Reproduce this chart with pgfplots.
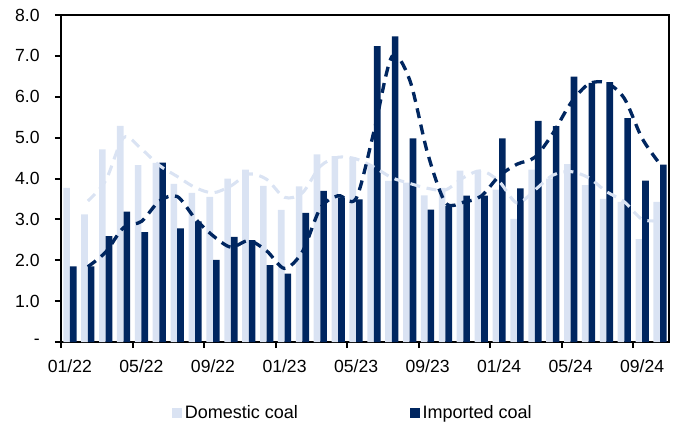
\documentclass[border=0pt]{standalone}
\usepackage{fontspec}
\setmainfont{Liberation Sans}
\usepackage{pgfplots}
\usepackage{pgfplotstable}
\pgfplotsset{compat=1.18}
\definecolor{navy}{RGB}{0,38,96}
\definecolor{lightb}{RGB}{218,227,243}

\pgfplotstableread{
k dom imp
0 3.77 1.85
1 3.12 1.85
2 4.71 2.59
3 5.29 3.19
4 4.33 2.69
5 4.38 4.39
6 3.87 2.78
7 3.65 2.95
8 3.55 2.01
9 4.00 2.57
10 4.22 2.49
11 3.82 1.88
12 3.23 1.67
13 3.81 3.16
14 4.59 3.70
15 4.55 3.54
16 4.52 3.49
17 4.31 7.24
18 3.94 7.48
19 3.90 4.98
20 3.59 3.24
21 3.77 3.33
22 4.19 3.58
23 4.19 3.58
24 3.73 4.98
25 3.01 3.76
26 4.22 5.41
27 4.00 5.28
28 4.35 6.49
29 3.84 6.34
30 3.50 6.36
31 3.43 5.48
32 2.52 3.95
33 3.43 4.34
}\bars

\pgfplotstableread{
k domma impma
1 3.45 1.84
2 3.95 2.20
3 5.00 2.80
4 4.72 2.95
5 4.32 3.45
6 4.05 3.56
7 3.78 3.02
8 3.65 2.60
9 3.82 2.32
10 4.11 2.48
11 3.98 2.23
12 3.54 1.80
13 3.65 2.21
14 4.30 3.27
15 4.52 3.58
16 4.48 3.51
17 4.28 5.15
18 4.02 6.98
19 3.88 6.41
20 3.76 4.62
21 3.72 3.41
22 4.02 3.42
23 4.19 3.57
24 3.93 4.06
25 3.40 4.35
26 3.72 4.52
27 4.08 5.10
28 4.17 5.84
29 4.02 6.31
30 3.68 6.34
31 3.43 5.96
32 3.00 4.98
33 2.97 4.35
}\lines

\begin{document}
\begin{tikzpicture}
\path[use as bounding box] (-45.75pt,-62.25pt) rectangle (464.25pt,256.5pt);
\begin{axis}[
  at={(0,0)}, anchor=south west,
  scale only axis,
  width=456pt, height=245.25pt,
  xmin=-0.5, xmax=33.5,
  ymin=0, ymax=8,
  axis line style={line width=1.5pt, black},
  every tick/.style={line width=1.5pt, black},
  tick align=outside,
  major tick length=4.5pt,
  xtick pos=bottom, ytick pos=left,
  ytick={0,1,...,8},
  yticklabels={{-\hspace{4.5pt}},1.0,2.0,3.0,4.0,5.0,6.0,7.0,8.0},
  xtick={-0.5,3.5,...,31.5},
  xticklabel=\empty,
  extra x ticks={0,4,8,12,16,20,24,28,32},
  extra x tick labels={01/22,05/22,09/22,01/23,05/23,09/23,01/24,05/24,09/24},
  extra x tick style={major tick length=0pt},
  tick label style={font=\fontsize{13.2}{15}\selectfont, black},
  xticklabel style={yshift=-10pt},
  yticklabel style={xshift=-8pt},
  legend style={at={(axis description cs:0.1826,-0.217)}, anchor=west,
    draw=none, fill=none, inner sep=0pt, legend columns=2,
    font=\fontsize{13.5}{15}\selectfont,
    /tikz/every even column/.append style={column sep=82pt}},
]
\addplot[ybar, bar width=0.37, bar shift=-0.185, fill=lightb, draw=none,
  legend image code/.code={\fill[lightb] (0pt,-3.75pt) rectangle (7.5pt,3.75pt);}]
  table[x=k, y=dom] {\bars};
\addlegendentry{Domestic coal}
\addplot[ybar, bar width=0.37, bar shift=0.185, fill=navy, draw=none,
  legend image code/.code={\fill[navy] (0pt,-3.75pt) rectangle (7.5pt,3.75pt);}]
  table[x=k, y=imp] {\bars};
\addlegendentry{Imported coal}
\addplot[forget plot, smooth, tension=0.5, lightb, line width=2.3pt, dash pattern=on 7.5pt off 5pt, mark=none]
  table[x=k, y=domma] {\lines};
\addplot[forget plot, smooth, tension=0.5, navy, line width=2.5pt, dash pattern=on 7.5pt off 5pt, mark=none]
  table[x=k, y=impma] {\lines};
\end{axis}
\end{tikzpicture}
\end{document}
